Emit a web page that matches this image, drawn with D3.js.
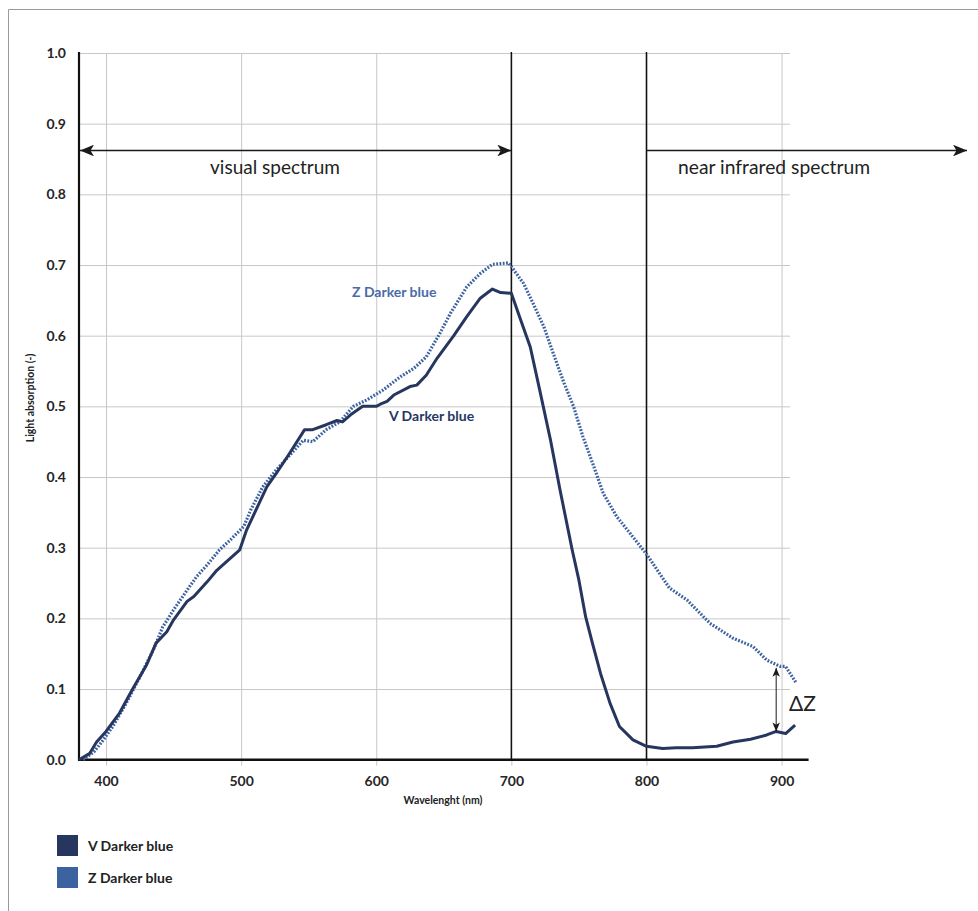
<!DOCTYPE html>
<html>
<head>
<meta charset="utf-8">
<script src="https://cdn.jsdelivr.net/npm/d3@7"></script>
<style>
  html, body { margin: 0; padding: 0; background: #fff; }
  svg text { font-family: Lato, "Open Sans", sans-serif; }
</style>
</head>
<body>
<svg id="chart" width="978" height="911"></svg>
<script>
// ---- data ----
const vWavelengths = [380, 388, 393, 400, 410, 420, 430, 437, 445, 450, 460, 465, 475, 482, 489, 499, 504, 519, 526, 536, 547, 553, 563, 571, 575, 581, 590, 600, 603, 608, 613, 625, 630, 637, 645, 657, 667, 677, 686, 692, 700, 706, 714, 721, 729, 736, 745, 750, 755, 760, 766, 773, 780, 790, 800, 812, 822, 834, 852, 864, 877, 889, 896, 903, 910];
const vValues      = [0.0, 0.009, 0.025, 0.04, 0.066, 0.101, 0.134, 0.165, 0.181, 0.198, 0.224, 0.231, 0.252, 0.268, 0.28, 0.297, 0.325, 0.386, 0.405, 0.434, 0.467, 0.467, 0.474, 0.48, 0.478, 0.488, 0.5, 0.5, 0.503, 0.507, 0.516, 0.528, 0.530, 0.544, 0.568, 0.599, 0.627, 0.653, 0.666, 0.661, 0.660, 0.627, 0.584, 0.523, 0.452, 0.382, 0.297, 0.254, 0.202, 0.165, 0.122, 0.08, 0.047, 0.028, 0.019, 0.016, 0.017, 0.017, 0.019, 0.025, 0.029, 0.035, 0.04, 0.037, 0.049];

const zWavelengths = [383, 391, 398, 405, 415, 425, 435, 442, 450, 460, 467, 475, 484, 492, 502, 507, 516, 526, 536, 546, 553, 563, 573, 583, 593, 605, 618, 628, 637, 647, 655, 667, 677, 686, 698, 709, 716, 724, 731, 739, 746, 753, 761, 768, 778, 788, 800, 817, 830, 847, 864, 879, 889, 899, 903, 911];
const zValues      = [0.0, 0.011, 0.028, 0.047, 0.08, 0.117, 0.155, 0.188, 0.212, 0.24, 0.259, 0.276, 0.297, 0.311, 0.33, 0.353, 0.386, 0.41, 0.431, 0.452, 0.45, 0.467, 0.478, 0.5, 0.509, 0.523, 0.542, 0.554, 0.570, 0.603, 0.632, 0.669, 0.688, 0.701, 0.703, 0.674, 0.646, 0.613, 0.575, 0.533, 0.5, 0.457, 0.415, 0.377, 0.344, 0.32, 0.291, 0.243, 0.226, 0.193, 0.172, 0.16, 0.141, 0.132, 0.132, 0.108];

const xTicks = [400, 500, 600, 700, 800, 900];
const yTicks = [0.0, 0.1, 0.2, 0.3, 0.4, 0.5, 0.6, 0.7, 0.8, 0.9, 1.0];
const seriesNames = ["V Darker blue", "Z Darker blue"];
const seriesColors = ["#27365f", "#3c62a0"];
const regionBounds = [380, 700, 800];   // visual spectrum start, visual end / NIR divider
const deltaZAt = 896;                   // wavelength of the ΔZ arrow
const deltaZRange = [0.04, 0.13];

// ---- layout ----
const svg = d3.select("#chart");
const x = d3.scaleLinear().domain([380, 920]).range([79, 808.6]);
const y = d3.scaleLinear().domain([0, 1]).range([759.7, 53]);

// outer frame
svg.append("path").attr("d", "M8.5,911 L8.5,9.5 L978,9.5")
  .attr("fill", "none").attr("stroke", "#9a9a9a").attr("stroke-width", 1);

// markers
const defs = svg.append("defs");
function marker(id, size) {
  defs.append("marker").attr("id", id)
    .attr("viewBox", "0 -5 12 10").attr("refX", 12).attr("refY", 0)
    .attr("markerUnits", "userSpaceOnUse")
    .attr("markerWidth", size).attr("markerHeight", size * 10 / 12)
    .attr("orient", "auto-start-reverse")
    .append("path").attr("d", "M0,-5 L12,0 L0,5 L3,0 Z").attr("fill", "#1a1a1a");
}
marker("arr", 14);
marker("arrSmall", 9);

// horizontal gridlines
const yAxis = d3.axisLeft(y).tickValues(yTicks).tickFormat(d3.format(".1f"))
  .tickSize(-(790 - 79)).tickPadding(13);
const gy = svg.append("g").attr("transform", "translate(79,0)").call(yAxis);
gy.select(".domain").remove();
gy.selectAll(".tick line").attr("stroke", "#c8c8c8").attr("stroke-width", 1)
  .filter(d => d === 0).remove();
gy.selectAll(".tick text").attr("font-size", 14).attr("font-weight", 700)
  .attr("fill", "#262626").attr("font-family", "Lato, sans-serif");

// vertical gridlines
const xAxis = d3.axisBottom(x).tickValues(xTicks).tickFormat(d3.format("d"))
  .tickSize(-(759.7 - 53)).tickPadding(0);
const gx = svg.append("g").attr("transform", "translate(0,759.7)").call(xAxis);
gx.select(".domain").remove();
gx.selectAll(".tick line").attr("stroke", "#c8c8c8").attr("stroke-width", 1)
  .attr("y1", 6);
gx.selectAll(".tick text").attr("y", 16).attr("dy", "0.71em").attr("font-size", 14)
  .attr("font-weight", 700).attr("fill", "#262626").attr("font-family", "Lato, sans-serif");

// region divider lines
svg.selectAll("line.divider").data(regionBounds.slice(1)).join("line")
  .attr("class", "divider")
  .attr("x1", d => x(d)).attr("x2", d => x(d))
  .attr("y1", 52).attr("y2", y(0))
  .attr("stroke", "#111").attr("stroke-width", 1.5);

// axes lines
svg.append("line").attr("x1", x(380)).attr("x2", x(380)).attr("y1", 52).attr("y2", y(0) + 1)
  .attr("stroke", "#111").attr("stroke-width", 2.2);
svg.append("line").attr("x1", x(380) - 1).attr("x2", x(920)).attr("y1", y(0)).attr("y2", y(0))
  .attr("stroke", "#111").attr("stroke-width", 2.4);

// spectrum arrows
const arrowY = y(0.862);
svg.append("line").attr("x1", x(380) + 1).attr("x2", x(700))
  .attr("y1", arrowY).attr("y2", arrowY)
  .attr("stroke", "#1a1a1a").attr("stroke-width", 1.4)
  .attr("marker-start", "url(#arr)").attr("marker-end", "url(#arr)");
svg.append("line").attr("x1", x(800)).attr("x2", 967)
  .attr("y1", arrowY).attr("y2", arrowY)
  .attr("stroke", "#1a1a1a").attr("stroke-width", 1.4)
  .attr("marker-end", "url(#arr)");

svg.append("text").attr("x", 275).attr("y", 174).attr("text-anchor", "middle")
  .attr("font-size", 19).attr("fill", "#222").text("visual spectrum");
svg.append("text").attr("x", 678).attr("y", 174).attr("text-anchor", "start")
  .attr("font-size", 19.3).attr("fill", "#222").text("near infrared spectrum");

// lines
const line = d3.line().x(d => x(d[0])).y(d => y(d[1])).curve(d3.curveLinear);
const zData = zWavelengths.map((w, i) => [w, zValues[i]]);
const vData = vWavelengths.map((w, i) => [w, vValues[i]]);

svg.append("path").datum(zData).attr("d", line)
  .attr("fill", "none").attr("stroke", seriesColors[1]).attr("stroke-width", 3.2)
  .attr("stroke-dasharray", "1.8,1.5").attr("stroke-linejoin", "round");
svg.append("path").datum(vData).attr("d", line)
  .attr("fill", "none").attr("stroke", seriesColors[0]).attr("stroke-width", 3)
  .attr("stroke-linejoin", "round");

// curve labels
svg.append("text").attr("x", 352).attr("y", 297).attr("font-size", 14)
  .attr("font-weight", 700).attr("fill", "#4a6aa8").text(seriesNames[1]);
svg.append("text").attr("x", 389).attr("y", 421).attr("font-size", 14)
  .attr("font-weight", 700).attr("fill", seriesColors[0]).text(seriesNames[0]);

// delta Z arrow
svg.append("line").attr("x1", x(deltaZAt)).attr("x2", x(deltaZAt))
  .attr("y1", y(deltaZRange[0])).attr("y2", y(deltaZRange[1]))
  .attr("stroke", "#1a1a1a").attr("stroke-width", 1)
  .attr("marker-start", "url(#arrSmall)").attr("marker-end", "url(#arrSmall)");
svg.append("text").attr("x", 789).attr("y", 711).attr("font-size", 21)
  .attr("fill", "#222").text("ΔZ");

// axis titles
svg.append("text").attr("x", 443).attr("y", 804).attr("text-anchor", "middle")
  .attr("font-size", 10.5).attr("font-weight", 700).attr("fill", "#222")
  .text("Wavelenght (nm)");
svg.append("text").attr("transform", "translate(34,398) rotate(-90)")
  .attr("text-anchor", "middle").attr("font-size", 10.5).attr("font-weight", 700)
  .attr("fill", "#222").text("Light absorption (-)");

// legend
const legend = svg.append("g").attr("transform", "translate(57,835)");
const li = legend.selectAll("g").data(seriesNames).join("g")
  .attr("transform", (d, i) => `translate(0,${i * 32})`);
li.append("rect").attr("width", 21).attr("height", 21)
  .attr("fill", (d, i) => seriesColors[i]);
li.append("text").attr("x", 31).attr("y", 16).attr("font-size", 14)
  .attr("font-weight", 700).attr("fill", "#222").text(d => d);
</script>
</body>
</html>
